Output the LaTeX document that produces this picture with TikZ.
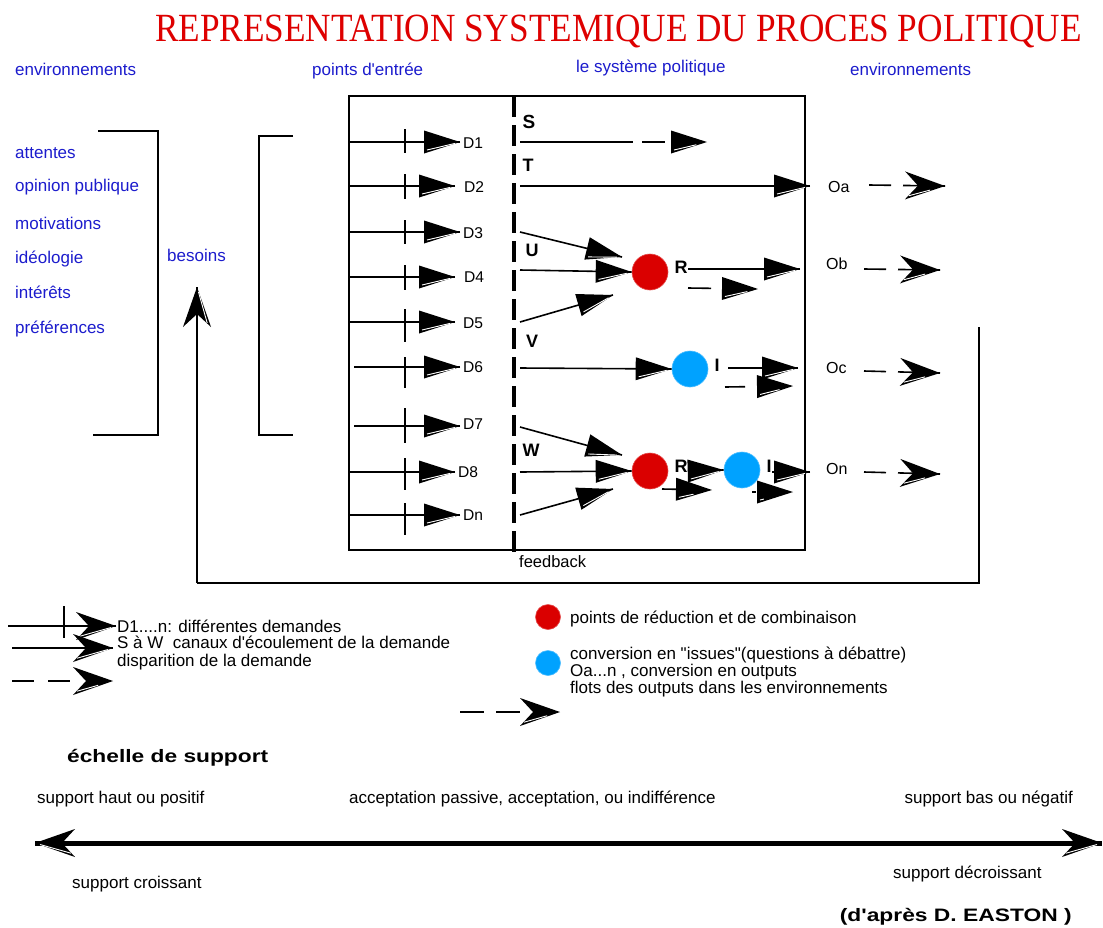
\documentclass[tikz,border=0pt]{standalone}
\usepackage{fontspec}
\setmainfont{Liberation Sans}
\newfontfamily\titleserif{Liberation Serif}
\usetikzlibrary{decorations.markings}
\definecolor{titlered}{RGB}{222,0,0}
\definecolor{envblue}{RGB}{28,28,205}
\definecolor{redpt}{RGB}{218,0,0}
\definecolor{bluept}{RGB}{0,162,255}
\newcommand\setfs[1]{\fontsize{#1}{#1}\selectfont}
\newcommand\apos{\textquotesingle}

% solid triangular head with a light stripe along its lower edge
\newcommand\triheadcode{%
  \fill[black] (-36pt,11.5pt) -- (0pt,0pt) -- (-36pt,-11.5pt) -- cycle;
  \draw[white,line width=0.9pt] (-33pt,-8pt) -- (-5pt,-1.4pt);}
% notched (stealth-like) head with the same stripe
\newcommand\chevheadcode{%
  \fill[black] (0pt,0pt) -- (-40pt,14pt) -- (-27pt,0pt) -- (-40pt,-14pt) -- cycle;
  \draw[white,line width=0.9pt] (-36pt,-10.2pt) -- (-5pt,-1.5pt);}

\tikzset{
  tri/.style={postaction={decorate,decoration={markings,mark=at position 1 with {\triheadcode}}}},
  chev/.style={postaction={decorate,decoration={markings,mark=at position 1 with {\chevheadcode}}}},
  dblchev/.style={postaction={decorate,decoration={markings,
      mark=at position 0 with {\begin{scope}[xscale=-1]\chevheadcode\end{scope}},
      mark=at position 1 with {\chevheadcode}}}},
  conn/.style={line width=1.6pt},
  txt/.style={inner sep=0pt,text height=0.72em,text depth=0.18em,yshift=-4pt},
  envtxt/.style={txt,text=envblue,font=\setfs{17},anchor=west},
  lbl/.style={txt,font=\setfs{15.6},anchor=west},
  outlbl/.style={txt,font=\setfs{16},anchor=west},
  chan/.style={txt,font=\bfseries\setfs{18}},
  legtxt/.style={txt,font=\setfs{17},anchor=west},
  redpoint/.style={circle,fill=redpt,draw=redpt!70,line width=0.6pt,minimum size=36pt,inner sep=0pt},
  bluepoint/.style={circle,fill=bluept,draw=bluept!70,line width=0.6pt,minimum size=36pt,inner sep=0pt},
}

\begin{document}
\begin{tikzpicture}[x=1pt,y=-1pt]
\useasboundingbox (0,0) rectangle (1103,927);
\fill[white] (0,0) rectangle (1103,927);

% ---------- title and column headings ----------
\node[inner sep=0pt,text=titlered] (title) at (618.5,31)
  {\resizebox{927pt}{\height}{\titleserif\setfs{40}REPRESENTATION SYSTEMIQUE DU PROCES POLITIQUE}};
\node[envtxt] (envL) at (15,69) {environnements};
\node[envtxt] (entree) at (312,69) {points d\apos entrée};
\node[envtxt] (sysp) at (576,66) {le système politique};
\node[envtxt] (envR) at (850,69) {environnements};

% ---------- environment items ----------
\node[envtxt] (e1) at (15,152) {attentes};
\node[envtxt] (e2) at (15,185) {opinion publique};
\node[envtxt] (e3) at (15,223) {motivations};
\node[envtxt] (e4) at (15,257) {idéologie};
\node[envtxt] (e5) at (15,292) {intérêts};
\node[envtxt] (e6) at (15,327) {préférences};
\node[envtxt] (besoins) at (167,255) {besoins};

% brackets
\draw[conn] (98,131) -| (158,435) -- (93,435);
\draw[conn] (293,136) -| (259,435) -- (293,435);

% ---------- political system box ----------
\node[draw,line width=1.6pt,minimum width=456pt,minimum height=454pt,inner sep=0pt] (box) at (577,323) {};
\node[txt,font=\setfs{16.5},anchor=west] (fbtxt) at (519,561) {feedback};
\coordinate (dtop) at (514,96);
\coordinate (dbot) at (514,558);
\draw[line width=4pt,dash pattern=on 21pt off 8pt] (dtop) -- (dbot);

% ---------- demands D1 ... Dn ----------
\foreach \n/\y/\xs/\xt/\ta/\tb/\lx/\ly in {
   1/142/349/460/129/153/463/142,
   2/186/349/455/174/199/464/186,
   3/232/349/460/220/244/463/232,
   4/277/349/455/265/290/464/276,
   5/322/349/455/309/342/463/322,
   6/367/354/460/357/388/463/366,
   7/426/354/460/408/443/463/423,
   8/472/349/455/458/490/458/471,
   n/515/349/460/503/535/463/514}{
  \coordinate (in\n) at (\xs,\y);
  \coordinate (hd\n) at (\xt,\y);
  \draw[conn,tri] (in\n) -- (hd\n);
  \draw[conn] (405,\ta) -- (405,\tb);
  \node[lbl] (lab\n) at (\lx,\ly) {D\n};
}

% ---------- channel letters ----------
\node[chan,font=\bfseries\setfs{19}] (S) at (529,122) {S};
\node[chan] (T) at (528,165) {T};
\node[chan] (U) at (532,250) {U};
\node[chan] (V) at (532,341) {V};
\node[chan] (W) at (531,450) {W};

% ---------- reduction / conversion points ----------
\node[redpoint] (r1) at (650,272) {};
\node[bluepoint] (i1) at (690,369) {};
\node[redpoint] (r2) at (650,471) {};
\node[bluepoint] (i2) at (742,470) {};
\node[chan] (R1) at (681,267) {R};
\node[chan] (I1) at (717,365) {I};
\node[chan] (R2) at (681,466) {R};
\node[chan] (I2) at (769,466) {I};

% channel S : demand dies out
\coordinate (s0) at (520,142); \coordinate (s1) at (633,142);
\coordinate (s2) at (642,142); \coordinate (s3) at (707,142);
\draw[conn] (s0) -- (s1);
\draw[conn,tri,dash pattern=on 23pt off 200pt] (s2) -- (s3);

% channel T : straight to output
\coordinate (t0) at (520,186); \coordinate (t1) at (810,186);
\draw[conn,tri] (t0) -- (t1);

% channel U : three demands combined
\coordinate (u0) at (520,232); \coordinate (u1) at (622,257);
\coordinate (u2) at (520,270);
\coordinate (u3) at (520,322); \coordinate (u4) at (613,295);
\draw[conn,tri] (u0) -- (u1);
\draw[conn,tri] (u2) -- (r1.west);
\draw[conn,tri] (u3) -- (u4);
\coordinate (ro0) at (688,269); \coordinate (ro1) at (800,269);
\draw[conn,tri] (ro0) -- (ro1);
\coordinate (rd0) at (688,288); \coordinate (rd1) at (758,289);
\draw[conn,tri,dash pattern=on 23pt off 200pt] (rd0) -- (rd1);

% channel V : conversion into an issue
\coordinate (v0) at (520,368);
\draw[conn,tri] (v0) -- (i1.west);
\coordinate (io0) at (728,368); \coordinate (io1) at (798,368);
\draw[conn,tri] (io0) -- (io1);
\coordinate (id0) at (725,387); \coordinate (id1) at (793,386);
\draw[conn,tri,dash pattern=on 20pt off 200pt] (id0) -- (id1);

% channel W : reduction then conversion
\coordinate (w0) at (520,427); \coordinate (w1) at (622,455);
\coordinate (w2) at (520,472);
\coordinate (w3) at (520,515); \coordinate (w4) at (613,489);
\draw[conn,tri] (w0) -- (w1);
\draw[conn,tri] (w2) -- (r2.west);
\draw[conn,tri] (w3) -- (w4);
\coordinate (ri0) at (688,471);
\draw[conn,tri] (ri0) -- (i2.west);
\coordinate (rw0) at (662,489); \coordinate (rw1) at (712,490);
\draw[conn,tri,dash pattern=on 15pt off 200pt] (rw0) -- (rw1);
\coordinate (jo0) at (772,472); \coordinate (jo1) at (810,472);
\draw[conn,tri] (jo0) -- (jo1);
\coordinate (jd0) at (752,492); \coordinate (jd1) at (793,492);
\draw[conn,tri,dash pattern=on 4pt off 200pt] (jd0) -- (jd1);

% ---------- outputs ----------
\node[outlbl] (Oa) at (828,186) {Oa};
\node[outlbl] (Ob) at (826,263) {Ob};
\node[outlbl] (Oc) at (826,367) {Oc};
\node[outlbl] (On) at (826,468) {On};
\foreach \k/\xa/\ya/\xb/\yb in {a/869/185/945/186, b/864/269/940/270, c/864/371/940/373, n/864/472/940/474}{
  \coordinate (oo\k) at (\xa,\ya);
  \coordinate (ot\k) at (\xb,\yb);
  \draw[conn,chev,dash pattern=on 22pt off 12pt on 100pt] (oo\k) -- (ot\k);
}

% ---------- feedback loop ----------
\coordinate (fb0) at (979,327);
\coordinate (fb2) at (197,583);
\coordinate (fb3) at (197,287);
\draw[conn] (fb0) |- (fb2);
\draw[conn,chev] (fb2) -- (fb3);

% ---------- legend ----------
\coordinate (la0) at (8,626); \coordinate (la1) at (116,626);
\draw[conn,chev] (la0) -- (la1);
\draw[conn] (64,606) -- (64,638);
\coordinate (lb0) at (12,648); \coordinate (lb1) at (113,648);
\draw[conn,chev] (lb0) -- (lb1);
\coordinate (lc0) at (12,681); \coordinate (lc1) at (113,681);
\draw[conn,chev,dash pattern=on 22pt off 14pt on 22pt off 100pt] (lc0) -- (lc1);
\node[legtxt] (leg1) at (117,626) {D1....n: différentes demandes};
\node[legtxt] (leg2) at (117,642) {S à W\ \ canaux d\apos écoulement de la demande};
\node[legtxt] (leg3) at (117,660) {disparition de la demande};

\node[redpoint,minimum size=25pt] (lr) at (548,617) {};
\node[bluepoint,minimum size=25pt] (lbp) at (548,663) {};
\node[legtxt] (leg4) at (570,617) {points de réduction et de combinaison};
\node[legtxt] (leg5) at (570,653) {conversion en \textquotedbl issues\textquotedbl(questions à débattre)};
\node[legtxt] (leg6) at (570,670) {Oa...n , conversion en outputs};
\node[legtxt] (leg7) at (570,687) {flots des outputs dans les environnements};
\coordinate (ld0) at (460,712); \coordinate (ld1) at (560,712);
\draw[conn,chev,dash pattern=on 24pt off 12pt on 24pt off 100pt] (ld0) -- (ld1);

% ---------- support scale ----------
\node[txt,anchor=west] (scale) at (67,756)
  {\resizebox{201pt}{\height}{\bfseries\setfs{18}échelle de support}};
\node[legtxt] (sup1) at (37,797) {support haut ou positif};
\node[legtxt] (sup2) at (349,797) {acceptation passive, acceptation, ou indifférence};
\node[legtxt,anchor=east] (sup3) at (1073,797) {support bas ou négatif};
\coordinate (ax0) at (35,843); \coordinate (ax1) at (1102,843);
\draw[line width=5pt,dblchev] (ax0) -- (ax1);
\node[legtxt] (cr) at (72,882) {support croissant};
\node[legtxt] (dc) at (893,872) {support décroissant};
\node[txt,anchor=east] (src) at (1072,915)
  {\resizebox{232pt}{\height}{\bfseries\setfs{18}(d\apos après D. EASTON )}};
\end{tikzpicture}
\end{document}
